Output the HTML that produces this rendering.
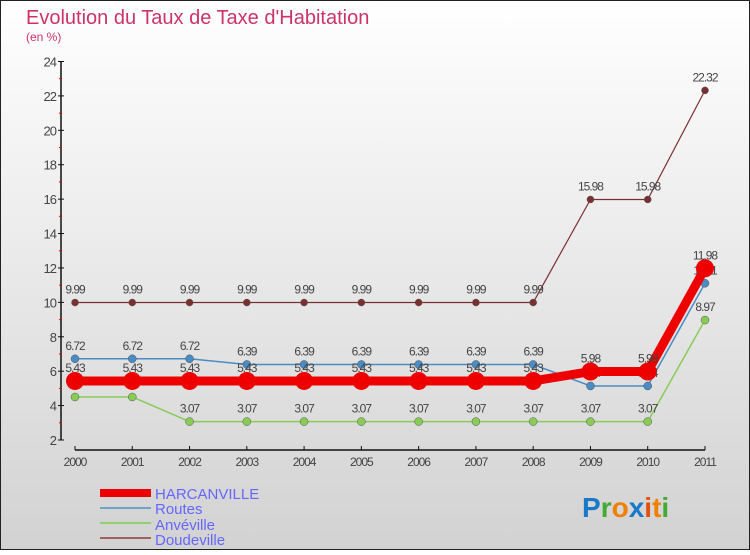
<!DOCTYPE html>
<html><head><meta charset="utf-8"><style>
body{margin:0}
#c{width:750px;height:550px;position:relative;font-family:"Liberation Sans",sans-serif}
</style></head><body>
<div id="c">
<svg id="s" width="750" height="550" xmlns="http://www.w3.org/2000/svg">
<defs><linearGradient id="bg" x1="0" y1="0" x2="0" y2="1"><stop offset="0" stop-color="#ffffff"/><stop offset="1" stop-color="#d2d2d2"/></linearGradient></defs>
<rect x="0.5" y="0.5" width="749" height="549" fill="url(#bg)" stroke="#222"/>
<text x="26" y="24" font-size="20" fill="#cc3366">Evolution du Taux de Taxe d'Habitation</text>
<text x="26" y="41" font-size="12" fill="#cc3366">(en %)</text>
<g id="axes"></g><g id="series"></g>
<g>
<rect x="100" y="489" width="51" height="8" fill="#e00"/>
<text x="155" y="499" font-size="15" fill="#6666ff">HARCANVILLE</text>
<line x1="100" y1="508" x2="151" y2="508" stroke="#6fa4c8" stroke-width="2"/>
<text x="155" y="514" font-size="15" fill="#6666ff">Routes</text>
<line x1="100" y1="523" x2="151" y2="523" stroke="#8fd070" stroke-width="2"/>
<text x="155" y="530" font-size="15" fill="#6666ff">Anvéville</text>
<line x1="100" y1="538" x2="151" y2="538" stroke="#a06060" stroke-width="2"/>
<text x="155" y="545" font-size="15" fill="#6666ff">Doudeville</text>
</g>
<text x="582" y="517" font-size="28" font-weight="bold"><tspan fill="#1a78c8">P</tspan><tspan fill="#44aa33">r</tspan><tspan fill="#f08000">o</tspan><tspan fill="#1a78c8">x</tspan><tspan fill="#e05010">i</tspan><tspan fill="#f08000">t</tspan><tspan fill="#44aa33">i</tspan></text>
</svg>
</div>
<script>
const years=["2000","2001","2002","2003","2004","2005","2006","2007","2008","2009","2010","2011"];
const yTicks=[2,4,6,8,10,12,14,16,18,20,22,24];
const harcanville=[5.43,5.43,5.43,5.43,5.43,5.43,5.43,5.43,5.43,5.98,5.98,11.98];
const routes=[6.72,6.72,6.72,6.39,6.39,6.39,6.39,6.39,6.39,5.14,5.14,11.11];
const anveville=[4.5,4.5,3.07,3.07,3.07,3.07,3.07,3.07,3.07,3.07,3.07,8.97];
const doudeville=[9.99,9.99,9.99,9.99,9.99,9.99,9.99,9.99,9.99,15.98,15.98,22.32];
const NS="http://www.w3.org/2000/svg";
function X(i){return 75+i*(630/(years.length-1));}
function Y(v){return 440-(v-2)*(378.5/22);}
function mk(t,a,p){const e=document.createElementNS(NS,t);for(const k in a)e.setAttribute(k,a[k]);p.appendChild(e);return e;}
const ax=document.getElementById('axes');
let l=mk('line',{x1:61,y1:Y(24),x2:61,y2:Y(2),stroke:'#111','stroke-width':1.5},ax);


l=mk('line',{x1:75,y1:450,x2:705,y2:450,stroke:'#111','stroke-width':1.5},ax);


yTicks.forEach(v=>{
 mk('line',{x1:58,y1:Y(v),x2:64,y2:Y(v),stroke:'#111'},ax);
 if(v<24)mk('line',{x1:59,y1:Y(v+1),x2:62,y2:Y(v+1),stroke:'#e00'},ax);
 const t=mk('text',{x:56,y:Y(v)+5,'font-size':13,fill:'#444','text-anchor':'end','letter-spacing':'-1'},ax);
 t.textContent=v;
 
 
});
years.forEach((y,i)=>{
 mk('line',{x1:X(i),y1:446,x2:X(i),y2:450,stroke:'#111'},ax);
 const t=mk('text',{x:X(i),y:466,'font-size':12,fill:'#444','text-anchor':'middle','letter-spacing':'-1'},ax);
 t.textContent=y;
 
 
});
const sg=document.getElementById('series');
function draw(data,name,color,w,r){
 const g=mk('g',{},sg);
 
 
 const pl=mk('polyline',{points:data.map((v,i)=>X(i)+','+Y(v)).join(' '),fill:'none',stroke:color,'stroke-width':w,'stroke-linejoin':'round'},g);
 
 
 data.forEach((v,i)=>{
  const c=mk('circle',{cx:X(i),cy:Y(v),r:r,fill:color,stroke:'#555','stroke-width':r>6?0:0.5},g);
  
  
  const t=mk('text',{x:X(i),y:Y(v)-9,'font-size':12,fill:'#444','text-anchor':'middle','letter-spacing':'-1'},g);
  t.textContent=v;
  
  
 });
}
draw(doudeville,'doudeville','#7a3030',1.2,3.5);
draw(anveville,'anveville','#88cc55',1.5,4);
draw(routes,'routes','#4a8cc4',1.5,4);
draw(harcanville,'harcanville','#ee0000',9,9);
</script>
</body></html>
